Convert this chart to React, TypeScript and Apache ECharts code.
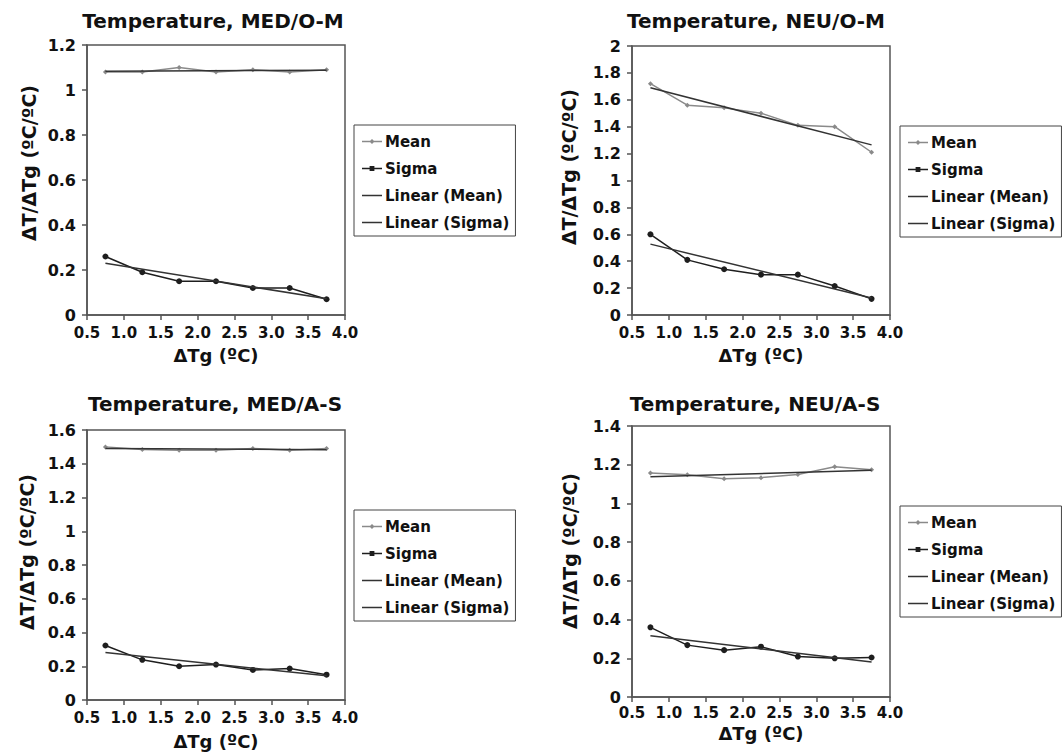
import React, { useEffect, useRef } from "react";
import * as echarts from "echarts";

// ---- data ----
const xValues = [0.75, 1.25, 1.75, 2.25, 2.75, 3.25, 3.75];
const xTicks = [0.5, 1.0, 1.5, 2.0, 2.5, 3.0, 3.5, 4.0];

const titles = [
  "Temperature, MED/O-M",
  "Temperature, NEU/O-M",
  "Temperature, MED/A-S",
  "Temperature, NEU/A-S",
];
const legendNames = ["Mean", "Sigma", "Linear (Mean)", "Linear (Sigma)"];

const meanMedOM = [1.08, 1.08, 1.1, 1.08, 1.09, 1.08, 1.09];
const sigmaMedOM = [0.26, 0.19, 0.15, 0.15, 0.12, 0.12, 0.07];
const trendMeanMedOM = [1.083, 1.088];
const trendSigmaMedOM = [0.23, 0.072];

const meanNeuOM = [1.72, 1.56, 1.54, 1.5, 1.41, 1.4, 1.21];
const sigmaNeuOM = [0.6, 0.41, 0.34, 0.3, 0.3, 0.215, 0.12];
const trendMeanNeuOM = [1.689, 1.265];
const trendSigmaNeuOM = [0.527, 0.126];

const meanMedAS = [1.5, 1.485, 1.48, 1.48, 1.49, 1.48, 1.49];
const sigmaMedAS = [0.323, 0.238, 0.2, 0.21, 0.178, 0.186, 0.15];
const trendMeanMedAS = [1.49, 1.483];
const trendSigmaMedAS = [0.281, 0.143];

const meanNeuAS = [1.157, 1.148, 1.128, 1.133, 1.15, 1.19, 1.174];
const sigmaNeuAS = [0.36, 0.268, 0.242, 0.26, 0.209, 0.2, 0.204];
const trendMeanNeuAS = [1.138, 1.171];
const trendSigmaNeuAS = [0.317, 0.181];

const yMax = [1.2, 2, 1.6, 1.4];

const panelsData = [
  [meanMedOM, sigmaMedOM, trendMeanMedOM, trendSigmaMedOM],
  [meanNeuOM, sigmaNeuOM, trendMeanNeuOM, trendSigmaNeuOM],
  [meanMedAS, sigmaMedAS, trendMeanMedAS, trendSigmaMedAS],
  [meanNeuAS, sigmaNeuAS, trendMeanNeuAS, trendSigmaNeuAS],
];

// ---- layout ----
const FONT = '"DejaVu Sans", "Liberation Sans", Arial, sans-serif';
const grids = [
  { left: 87, top: 45, width: 258, height: 270 },
  { left: 632, top: 46, width: 258, height: 269 },
  { left: 87, top: 430, width: 258, height: 270 },
  { left: 632, top: 426, width: 258, height: 271 },
];
const titlePos = [
  [213, 21],
  [756, 21],
  [215, 404],
  [755, 404],
];
const yNamePos = [
  [29, 163],
  [569, 167],
  [27, 552],
  [570, 551],
];
const legendPos = [
  [354, 125],
  [900, 126],
  [354, 510],
  [900, 506],
];
const xLabelMargin = [10, 10, 10, 8];
const xNameGap = [31, 31, 32, 27];

const MEAN_COLOR = "#8a8a8a";
const SIGMA_COLOR = "#1e1e1e";
const TREND_COLOR = "#333333";
const AXIS_COLOR = "#555555";
const TEXT_COLOR = "#111111";

// legend icons (20 x 14 box; the two empty sub-paths pin the box corners)
const BOX = "M0,0L0,0ZM20,14L20,14Z";
const LINE = "M0,6.3L20,6.3L20,7.7L0,7.7Z";
const ICON_MEAN = `path://${BOX}${LINE}M10,4.4L12.6,7L10,9.6L7.4,7Z`;
const ICON_SIGMA = `path://${BOX}${LINE}M7.6,4.6L12.4,4.6L12.4,9.4L7.6,9.4Z`;
const ICON_LINE = `path://${BOX}${LINE}`;
const legendIcons = [ICON_MEAN, ICON_SIGMA, ICON_LINE, ICON_LINE];

export default function App() {
  const ref = useRef<HTMLDivElement>(null);

  useEffect(() => {
    if (!ref.current) return;
    const chart = echarts.init(ref.current, null, { renderer: "svg" });

    const xAxis = grids.map((_, i) => ({
      type: "value",
      gridIndex: i,
      min: xTicks[0],
      max: xTicks[xTicks.length - 1],
      interval: 0.5,
      name: "ΔTg (ºC)",
      nameLocation: "middle",
      nameGap: xNameGap[i],
      nameTextStyle: { fontFamily: FONT, fontWeight: "bold", fontSize: 18, color: TEXT_COLOR },
      axisLine: { show: true, lineStyle: { color: AXIS_COLOR, width: 1.5 } },
      axisTick: { show: true, inside: false, length: 5, lineStyle: { color: AXIS_COLOR, width: 1.5 } },
      splitLine: { show: false },
      axisLabel: {
        margin: xLabelMargin[i],
        fontFamily: FONT,
        fontWeight: "bold",
        fontSize: 15,
        color: TEXT_COLOR,
        formatter: (v: number) => v.toFixed(1),
      },
    }));

    const yAxis = grids.map((_, i) => ({
      type: "value",
      gridIndex: i,
      min: 0,
      max: yMax[i],
      interval: 0.2,
      axisLine: { show: true, lineStyle: { color: AXIS_COLOR, width: 1.5 } },
      axisTick: { show: true, inside: false, length: 5, lineStyle: { color: AXIS_COLOR, width: 1.5 } },
      splitLine: { show: false },
      axisLabel: {
        margin: 11,
        fontFamily: FONT,
        fontWeight: "bold",
        fontSize: 16,
        color: TEXT_COLOR,
      },
    }));

    const series: any[] = [];
    panelsData.forEach((p, i) => {
      const [mean, sigma, tMean, tSigma] = p;
      series.push({
        type: "line",
        name: legendNames[0],
        xAxisIndex: i,
        yAxisIndex: i,
        data: xValues.map((x, k) => [x, mean[k]]),
        symbol: "diamond",
        symbolSize: 5,
        lineStyle: { color: MEAN_COLOR, width: 1.5 },
        itemStyle: { color: MEAN_COLOR },
        z: 2,
      });
      series.push({
        type: "line",
        name: legendNames[1],
        xAxisIndex: i,
        yAxisIndex: i,
        data: xValues.map((x, k) => [x, sigma[k]]),
        symbol: "circle",
        symbolSize: 6,
        lineStyle: { color: SIGMA_COLOR, width: 1.5 },
        itemStyle: { color: SIGMA_COLOR },
        z: 3,
      });
      series.push({
        type: "line",
        name: legendNames[2],
        xAxisIndex: i,
        yAxisIndex: i,
        data: [
          [xValues[0], tMean[0]],
          [xValues[xValues.length - 1], tMean[1]],
        ],
        symbol: "none",
        showSymbol: false,
        lineStyle: { color: TREND_COLOR, width: 1.5 },
        itemStyle: { color: TREND_COLOR },
        z: 4,
      });
      series.push({
        type: "line",
        name: legendNames[3],
        xAxisIndex: i,
        yAxisIndex: i,
        data: [
          [xValues[0], tSigma[0]],
          [xValues[xValues.length - 1], tSigma[1]],
        ],
        symbol: "none",
        showSymbol: false,
        lineStyle: { color: TREND_COLOR, width: 1.5 },
        itemStyle: { color: TREND_COLOR },
        z: 4,
      });
    });

    const legend = legendPos.map(([l, t]) => ({
      data: legendNames.map((n, k) => ({ name: n, icon: legendIcons[k] })),
      orient: "vertical",
      left: l,
      top: t,
      itemWidth: 20,
      itemHeight: 14,
      itemGap: 12,
      symbolKeepAspect: false,
      padding: [9, 6, 6, 8],
      borderColor: "#444",
      borderWidth: 1,
      backgroundColor: "#fff",
      selectedMode: false,
      itemStyle: { borderWidth: 0 },
      textStyle: {
        fontFamily: FONT,
        fontWeight: "bold",
        fontSize: 15,
        color: TEXT_COLOR,
        padding: [0, 0, 0, -2],
      },
    }));

    const graphic: any[] = [];
    titles.forEach((t, i) => {
      graphic.push({
        type: "text",
        x: titlePos[i][0],
        y: titlePos[i][1],
        style: {
          text: t,
          fontFamily: FONT,
          fontWeight: "bold",
          fontSize: 20,
          fill: TEXT_COLOR,
          align: "center",
          verticalAlign: "middle",
        },
      });
      graphic.push({
        type: "text",
        x: yNamePos[i][0],
        y: yNamePos[i][1],
        rotation: Math.PI / 2,
        style: {
          text: "ΔT/ΔTg (ºC/ºC)",
          fontFamily: FONT,
          fontWeight: "bold",
          fontSize: 19,
          fill: TEXT_COLOR,
          align: "center",
          verticalAlign: "middle",
        },
      });
    });

    chart.setOption({
      animation: false,
      backgroundColor: "#ffffff",
      grid: grids.map((g) => ({ ...g, show: true, borderColor: AXIS_COLOR, borderWidth: 1.5, backgroundColor: "transparent" })),
      xAxis,
      yAxis,
      legend,
      series,
      graphic,
    });

    return () => chart.dispose();
  }, []);

  return (
    <div
      ref={ref}
      style={{ position: "fixed", left: 0, top: 0, width: 1064, height: 756, background: "#fff" }}
    />
  );
}
